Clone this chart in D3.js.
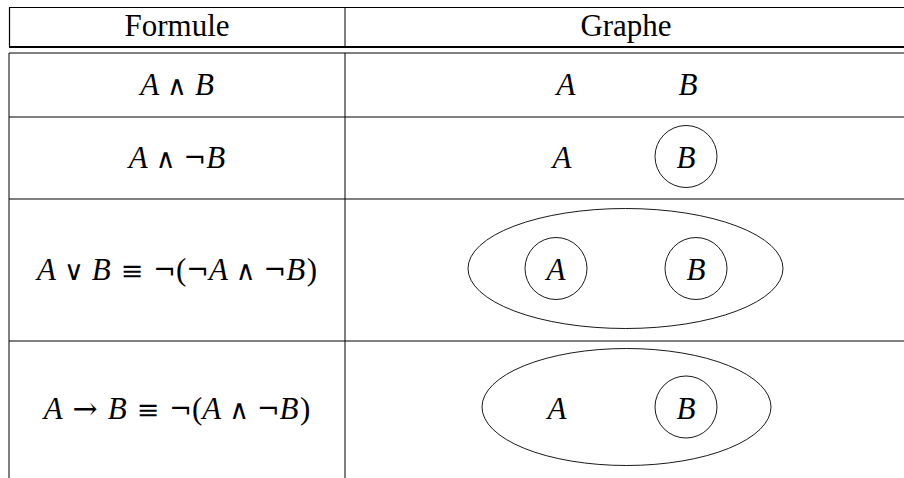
<!DOCTYPE html>
<html>
<head>
<meta charset="utf-8">
<script src="https://cdn.jsdelivr.net/npm/d3@7/dist/d3.min.js"></script>
<style>
  body { margin: 0; background: #fff; }
</style>
</head>
<body>
<div id="chart"></div>
<script>
// table content
const headers = ["Formule", "Graphe"];
const formulas = ["A ∧ B", "A ∧ ¬B", "A ∨ B ≡ ¬(¬A ∧ ¬B)", "A → B ≡ ¬(A ∧ ¬B)"];
// existential graphs: atoms, which atoms sit in a cut, and whether the whole graph is cut
const atoms = [["A", "B"], ["A", "B"], ["A", "B"], ["A", "B"]];
const atomCut = [[false, false], [false, true], [true, true], [false, true]];
const outerCut = [false, false, true, true];

const WIDTH = 904, HEIGHT = 478;
const FONT = "'Liberation Serif', 'DejaVu Serif', serif";
const SYM = "'DejaVu Serif', serif";
const FS = 31;

// layout
const colEdges = [9, 345, 907];
const headTop = 7.5, headBottom = 47, bodyTop = 53;
const rowEdges = [53, 117, 199, 341, 476];
const slotRange = [[566, 688], [562, 686], [556, 696], [557, 686]];
const outerRange = [null, null, [468, 783], [482, 771]];
const outerRy = [0, 0, 60, 58.5];
const CUT_R = 31;

const svg = d3.select("#chart").append("svg")
  .attr("width", WIDTH)
  .attr("height", HEIGHT)
  .style("background", "white");

const rowMid = (i) => (rowEdges[i] + rowEdges[i + 1]) / 2;
const colMid = (j) => (colEdges[j] + colEdges[j + 1]) / 2;

// --- grid lines
const g = svg.append("g");
g.append("line").attr("x1", colEdges[0]).attr("x2", WIDTH)
  .attr("y1", headTop).attr("y2", headTop)
  .attr("stroke", "#000").attr("stroke-width", 1.2);
g.append("line").attr("x1", colEdges[0]).attr("x2", WIDTH)
  .attr("y1", headBottom).attr("y2", headBottom)
  .attr("stroke", "#000").attr("stroke-width", 1.8);
g.append("line").attr("x1", colEdges[0] + 0.5).attr("x2", colEdges[0] + 0.5)
  .attr("y1", headTop).attr("y2", headBottom)
  .attr("stroke", "#000").attr("stroke-width", 1.2);
g.append("line").attr("x1", colEdges[1]).attr("x2", colEdges[1])
  .attr("y1", headTop).attr("y2", headBottom)
  .attr("stroke", "#000").attr("stroke-width", 1);

g.selectAll(".hline")
  .data(rowEdges.slice(0, -1))
  .enter()
  .append("line")
  .attr("class", "hline")
  .attr("x1", colEdges[0]).attr("x2", WIDTH)
  .attr("y1", (d) => d).attr("y2", (d) => d)
  .attr("stroke", "#000").attr("stroke-width", 1);

g.selectAll(".vline")
  .data(colEdges.slice(0, 2))
  .enter()
  .append("line")
  .attr("class", "vline")
  .attr("x1", (d) => d).attr("x2", (d) => d)
  .attr("y1", bodyTop).attr("y2", HEIGHT)
  .attr("stroke", "#000").attr("stroke-width", 1);

// --- header
svg.selectAll(".head")
  .data(headers)
  .enter()
  .append("text")
  .attr("class", "head")
  .attr("x", (d, j) => colMid(j))
  .attr("y", 36)
  .attr("text-anchor", "middle")
  .attr("font-family", FONT)
  .attr("font-size", FS)
  .text((d) => d);

// --- formulas, TeX-like spacing: medium space round binary ops, thick round relations
const MED = 8, THICK = 10;
function kind(c) {
  if (/[A-Z]/.test(c)) return "var";
  if (c === "∧" || c === "∨") return "bin";
  if (c === "≡" || c === "→") return "rel";
  return "ord";
}
function addMath(sel, str) {
  const chars = Array.from(str).filter((c) => c !== " ");
  let prev = null;
  chars.forEach((c) => {
    const k = kind(c);
    let dx = 0;
    if (prev) {
      if (k === "bin" || prev === "bin") dx = MED;
      else if (k === "rel" || prev === "rel") dx = THICK;
      else if (prev === "var" && k === "ord") dx = 1.5;
    }
    const t = sel.append("tspan").attr("dx", dx).text(c);
    if (k === "var") {
      t.attr("font-style", "italic");
    } else if (k === "bin") {
      t.attr("font-family", SYM).attr("font-size", 27).attr("font-weight", 300);
    } else if (c === "→") {
      t.attr("font-family", SYM).attr("font-size", 30).attr("font-weight", 300);
    } else if (k === "rel") {
      t.attr("font-family", SYM).attr("font-size", 27).attr("font-weight", 300);
    } else if (c === "¬") {
      t.attr("font-family", SYM).attr("font-size", 27);
    }
    prev = k;
  });
}

svg.selectAll(".formula")
  .data(formulas)
  .enter()
  .append("text")
  .attr("class", "formula")
  .attr("x", colMid(0))
  .attr("y", (d, i) => rowMid(i) + 10)
  .attr("text-anchor", "middle")
  .attr("font-family", FONT)
  .attr("font-size", FS)
  .each(function (d) { addMath(d3.select(this), d); });

// --- graphs
atoms.forEach((list, i) => {
  const cy = rowMid(i) - 1.5;
  const x = d3.scalePoint().domain(d3.range(list.length)).range(slotRange[i]);
  const gr = svg.append("g").attr("class", "graph");

  if (outerCut[i]) {
    const [x0, x1] = outerRange[i];
    gr.append("ellipse")
      .attr("cx", (x0 + x1) / 2)
      .attr("cy", cy)
      .attr("rx", (x1 - x0) / 2)
      .attr("ry", outerRy[i])
      .attr("fill", "none")
      .attr("stroke", "#000")
      .attr("stroke-width", 0.9);
  }

  gr.selectAll("circle")
    .data(list.map((a, k) => ({ a, k, cut: atomCut[i][k] })).filter((d) => d.cut))
    .enter()
    .append("circle")
    .attr("cx", (d) => x(d.k))
    .attr("cy", cy)
    .attr("r", CUT_R)
    .attr("fill", "none")
    .attr("stroke", "#000")
    .attr("stroke-width", 0.9);

  gr.selectAll("text")
    .data(list)
    .enter()
    .append("text")
    .attr("x", (d, k) => x(k))
    .attr("y", cy + 11.5)
    .attr("text-anchor", "middle")
    .attr("font-family", FONT)
    .attr("font-size", FS)
    .attr("font-style", "italic")
    .text((d) => d);
});
</script>
</body>
</html>
